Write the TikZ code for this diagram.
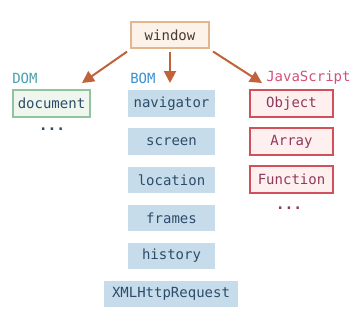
\documentclass[tikz,border=0pt]{standalone}
\usepackage{fontspec}
\setmonofont{DejaVu Sans Mono}
\usetikzlibrary{arrows.meta,positioning}
\definecolor{arrowbrown}{HTML}{C0623A}
\definecolor{winfill}{HTML}{FCF2EA}
\definecolor{windraw}{HTML}{E2B68E}
\definecolor{wintext}{HTML}{4A3A30}
\definecolor{domfill}{HTML}{EEF6EE}
\definecolor{domdraw}{HTML}{92C3A0}
\definecolor{domtext}{HTML}{47A0AC}
\definecolor{bomfill}{HTML}{C7DCEA}
\definecolor{bomtext}{HTML}{3A8FCF}
\definecolor{bomink}{HTML}{2C4C6A}
\definecolor{jsfill}{HTML}{FFF0F0}
\definecolor{jsdraw}{HTML}{D2505A}
\definecolor{jstext}{HTML}{D2507A}
\definecolor{jsink}{HTML}{8E3A5C}

\tikzset{
  box/.style={font=\ttfamily\fontsize{10.5}{12}\selectfont, inner sep=0pt, minimum height=20pt},
  winbox/.style={box, draw=windraw, fill=winfill, line width=1.5pt, minimum width=58pt, text=wintext},
  dombox/.style={box, draw=domdraw, fill=domfill, line width=1.5pt, minimum width=58pt, text=bomink},
  bombox/.style={box, fill=bomfill, minimum width=65pt, text=bomink},
  jsbox/.style={box, draw=jsdraw, fill=jsfill, line width=1.5pt, minimum width=62pt, text=jsink},
  grouplabel/.style={font=\ttfamily\fontsize{10.5}{12}\selectfont, inner sep=0pt, anchor=west},
  moredots/.style={font=\ttfamily\bfseries\fontsize{11}{12}\selectfont, inner sep=0pt},
  arr/.style={-{Triangle[length=9pt,width=9pt]}, line width=1.5pt, arrowbrown}
}

\begin{document}
\begin{tikzpicture}[x=0.75pt,y=-0.75pt]
    \useasboundingbox (0,0) rectangle (360,319);
    % top
    \node[winbox] (window) at (170,35) {window};
    % DOM column
    \node[grouplabel, text=domtext] (domlabel) at (12,78) {DOM};
    \node[dombox] (document) at (51.5,103.5) {document};
    \node[moredots, text=bomink] (domdots) at (52,129) {...};
    % BOM column
    \node[grouplabel, text=bomtext] (bomlabel) at (130,78) {BOM};
    \node[bombox] (navigator) at (171.5,103.5) {navigator};
    \node[bombox] (screen) at (171.5,141.5) {screen};
    \node[bombox] (location) at (171.5,180) {location};
    \node[bombox] (frames) at (171.5,218) {frames};
    \node[bombox] (history) at (171.5,256) {history};
    \node[bombox, minimum width=100pt] (xhr) at (171,294) {XMLHttpRequest};
    % JavaScript column
    \node[grouplabel, text=jstext] (jslabel) at (266,78) {JavaScript};
    \node[jsbox] (object) at (291.5,103.5) {Object};
    \node[jsbox] (array) at (291.5,141.5) {Array};
    \node[jsbox] (function) at (291.5,179.5) {Function};
    \node[moredots, text=jsink] (jsdots) at (289,208) {...};
    % arrows
    \coordinate (domtip) at (82,83);
    \coordinate (bomtip) at (170,83);
    \coordinate (jstip) at (262,83);
    \draw[arr, shorten <=3pt] (window.south west) -- (domtip);
    \draw[arr, shorten <=2pt] (window.south) -- (bomtip);
    \draw[arr, shorten <=3pt] (window.south east) -- (jstip);
\end{tikzpicture}
\end{document}
